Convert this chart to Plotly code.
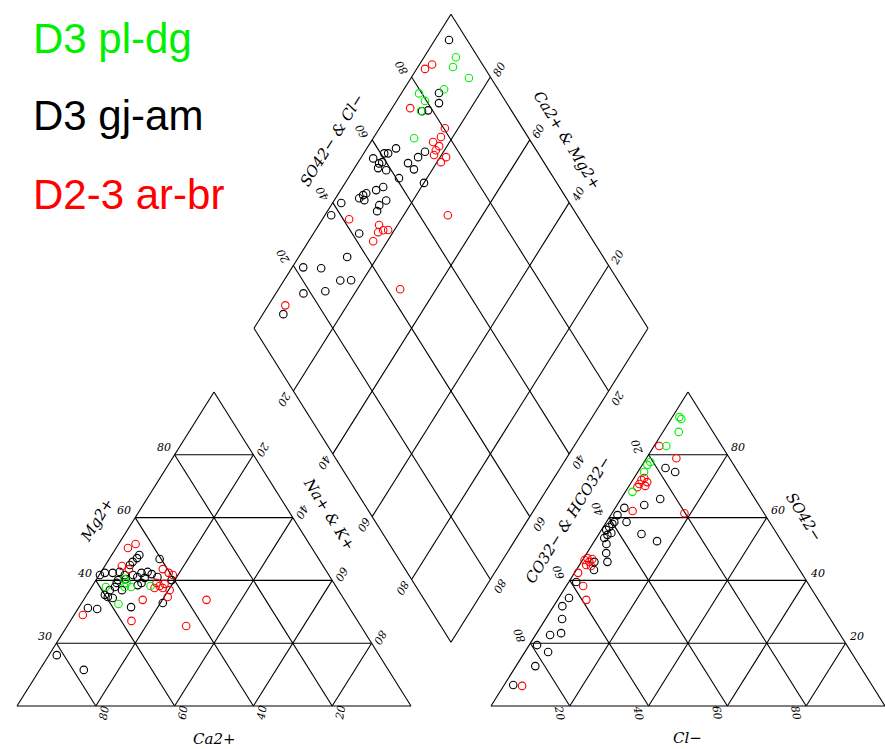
import plotly.graph_objects as go

# ---------------- data (percentages) ----------------
# Cation triangle: Ca2+ %, Mg2+ %  (Na+ + K+ = 100 - Ca - Mg)
cat_green_ca = [58.5, 52.5, 52.6, 52.1, 53.7, 47.0, 58.0]
cat_green_mg = [37.9, 40.4, 39.2, 37.9, 37.9, 38.2, 32.5]

cat_black_ca = [44.9, 46.0, 47.7, 48.9, 40.4, 56.5, 54.5, 52.6, 51.8, 49.7, 47.2, 45.5,
                48.9, 54.3, 55.1, 56.2, 58.0, 50.1, 48.8, 60.0, 59.6, 58.5, 66.4, 64.2,
                55.3, 40.7, 43.8, 46.6, 81.8, 77.3, 44.8, 52.2, 54.9, 58.1, 47.2]
cat_black_mg = [48.1, 47.1, 45.9, 44.9, 46.8, 42.4, 42.4, 42.7, 41.7, 41.7, 42.4, 42.7,
                41.1, 40.1, 39.2, 37.9, 36.9, 38.5, 39.2, 35.4, 34.7, 34.4, 31.2, 30.9,
                31.5, 40.1, 41.1, 32.8, 16.2, 11.5, 42.0, 40.4, 36.9, 41.7, 40.8]

cat_red_ca = [46.7, 44.1, 51.1, 49.8, 41.2, 40.3, 39.6, 45.0, 44.7, 43.1, 46.3, 44.2,
              42.8, 51.2, 44.4, 35.0, 68.8, 57.4, 44.3]
cat_red_mg = [50.3, 51.6, 44.6, 43.6, 43.6, 42.4, 41.7, 39.2, 38.2, 38.9, 37.6, 37.6,
              36.9, 33.8, 34.7, 33.8, 29.0, 27.1, 25.5]

# Anion triangle: Cl- %, SO42- %  (CO32- + HCO3- = 100 - Cl - SO4)
an_green_cl = [1.8, 2.6, 4.0, 3.1, 1.6, 1.3, 1.6, 1.8]
an_green_so4 = [92.0, 91.4, 87.3, 82.8, 77.7, 76.8, 74.5, 68.2]

an_black_cl = [6.4, 9.5, 6.9, 10.0, 2.3, 5.1, 10.8, 15.9, 1.2, 1.5, 1.8, 2.3, 3.0, 2.0,
               2.0, 1.7, 3.5, 4.9, 6.6, 3.3, 4.5, 1.9, 2.6, 2.2, 4.2, 3.7, 6.2, 2.0,
               5.9, 4.9, 2.3]
an_black_so4 = [75.8, 74.5, 64.0, 65.9, 63.1, 58.6, 54.8, 52.5, 56.1, 57.0, 58.0, 54.5,
                55.1, 58.6, 53.5, 60.8, 51.6, 48.7, 45.9, 45.9, 43.3, 39.5, 34.4, 31.8,
                27.7, 22.6, 23.2, 19.4, 17.2, 12.7, 6.7]

an_red_cl = [1.3, 7.6, 2.2, 2.6, 2.3, 4.1, 4.0, 2.3, 4.9, 18.4, 0.5, 0.9, 2.0, 2.3,
             1.7, 3.1, 0.9, 4.3, 7.3, 4.7]
an_red_so4 = [82.8, 78.9, 72.0, 72.6, 70.7, 70.1, 71.3, 69.7, 62.1, 61.4, 46.5, 47.1,
              45.9, 46.8, 44.9, 44.6, 42.4, 38.2, 33.8, 6.4]

# Diamond: Na+ + K+ %, SO42- + Cl- %
dia_green_nak = [8.1, 8.9, 14.7, 10.2, 4.5, 7.2, 7.8, 10.4]
dia_green_scl = [94.4, 92.1, 94.4, 86.3, 79.3, 79.6, 77.0, 70.9]

dia_black_nak = [3.6, 9.5, 11.1, 9.5, 8.1, 7.4, 6.2, 3.2, 5.2, 5.5, 6.0, 8.4, 6.1, 12.8,
                 15.3, 14.4, 15.3, 12.9, 20.0, 9.0, 10.3, 6.5, 7.0, 6.0, 7.6, 2.2, 1.6,
                 12.2, 13.2, 12.6, 11.6, 12.3, 2.8, 7.5, 14.3, 17.0, 7.0, 12.2, 5.2]
dia_black_scl = [95.4, 84.4, 82.8, 78.9, 77.2, 64.7, 61.9, 57.3, 60.9, 58.0, 57.0, 58.7,
                 59.0, 65.4, 65.9, 68.9, 71.5, 60.7, 66.3, 53.0, 55.3, 48.9, 50.0, 47.4,
                 48.4, 42.1, 37.6, 51.4, 53.9, 49.9, 41.8, 35.0, 22.2, 26.6, 29.5, 32.3,
                 18.1, 24.0, 9.7]

dia_red_nak = [2.1, 3.2, 4.6, 16.6, 17.0, 15.8, 18.0, 18.1, 21.5, 21.0, 17.8, 6.8, 15.3,
               17.2, 16.2, 18.4, 16.4, 31.2, 30.9, 4.3]
dia_red_scl = [84.7, 87.2, 74.7, 80.3, 77.9, 75.1, 76.0, 73.3, 76.0, 73.9, 74.5, 41.5,
               48.2, 48.4, 46.8, 49.7, 44.1, 67.2, 43.3, 11.6]

groups = ["D3 pl-dg", "D3 gj-am", "D2-3 ar-br"]
group_colors = ["#00ee00", "#000000", "#ff0000"]

grid_ticks = [20, 40, 60, 80]
cat_bottom_labels = ["80", "60", "40", "20"]   # Ca2+
cat_left_labels = ["30", "40", "60", "80"]     # Mg2+ (as printed)
cat_right_labels = ["80", "60", "40", "20"]    # Na+ & K+ (bottom -> top)
an_bottom_labels = ["20", "40", "60", "80"]    # Cl-
an_right_labels = ["20", "40", "60", "80"]     # SO42- (bottom -> top)
an_left_labels = ["80", "60", "40", "20"]      # CO32- & HCO3 (bottom -> top)

# ---------------- geometry ----------------
G = 0.203  # gap between triangles (in side units)
BX, BY = 1 + G / 2, G  # diamond bottom vertex (y measured in triangle heights)


def cat_xy(ca, mg):
    return [1 - c / 100 - m / 200 for c, m in zip(ca, mg)], [m / 100 for m in mg]


def an_xy(cl, so4):
    return [1 + G + c / 100 + s / 200 for c, s in zip(cl, so4)], [s / 100 for s in so4]


def dia_xy(nak, scl):
    xs, ys = [], []
    for n, s in zip(nak, scl):
        a = 1 - n / 100
        b = s / 100
        xs.append(BX - 0.5 * a + 0.5 * b)
        ys.append(BY + a + b)
    return xs, ys


lx, ly = [], []


def seg(p, q):
    lx.extend([p[0], q[0], None])
    ly.extend([p[1], q[1], None])


for off in (0.0, 1 + G):
    seg((off, 0), (off + 1, 0))
    seg((off + 1, 0), (off + 0.5, 1))
    seg((off + 0.5, 1), (off, 0))
    for k in grid_ticks:
        t = k / 100
        seg((off + t / 2, t), (off + 1 - t / 2, t))
        seg((off + t, 0), (off + t + (1 - t) / 2, 1 - t))
        seg((off + 1 - t, 0), (off + (1 - t) / 2, 1 - t))

# diamond
for k in [0] + grid_ticks + [100]:
    t = k / 100
    p = (BX - 0.5 * t, BY + t)
    seg(p, (p[0] + 0.5, p[1] + 1))
    p = (BX + 0.5 * t, BY + t)
    seg(p, (p[0] - 0.5, p[1] + 1))

fig = go.Figure()
fig.add_trace(go.Scatter(x=lx, y=ly, mode="lines", line=dict(color="black", width=1.1),
                         hoverinfo="skip", showlegend=False))

series = [
    (cat_black_ca, cat_black_mg, an_black_cl, an_black_so4, dia_black_nak, dia_black_scl, 1),
    (cat_red_ca, cat_red_mg, an_red_cl, an_red_so4, dia_red_nak, dia_red_scl, 2),
    (cat_green_ca, cat_green_mg, an_green_cl, an_green_so4, dia_green_nak, dia_green_scl, 0),
]
for ca, mg, cl, so4, nak, scl, gi in series:
    xs, ys = [], []
    for f, u, v in ((cat_xy, ca, mg), (an_xy, cl, so4), (dia_xy, nak, scl)):
        a, b = f(u, v)
        xs += a
        ys += b
    fig.add_trace(go.Scatter(
        x=xs, y=ys, mode="markers", name=groups[gi], showlegend=False,
        marker=dict(symbol="circle-open", size=7.5, color=group_colors[gi],
                    line=dict(width=1.1, color=group_colors[gi]))))

num_font = dict(family="DejaVu Serif", size=11, color="black", style="italic")
ttl_font = dict(family="DejaVu Serif", size=15, color="black", style="italic")
ann = []


def lab(x, y, text, dx, dy, angle=0, font=num_font):
    ann.append(dict(x=x, y=y, xref="x", yref="y", text=text, showarrow=False,
                    xshift=dx, yshift=dy, textangle=angle, font=font,
                    xanchor="center", yanchor="middle"))


for i, k in enumerate(grid_ticks):
    t = k / 100
    # cation triangle
    lab(t, 0, cat_bottom_labels[i], 8, -7, -80)
    lab(t / 2, t, cat_left_labels[i], -11, 7, 0)
    lab(1 - t / 2, t, cat_right_labels[i], 9, 6, 120)
    # anion triangle
    lab(1 + G + t, 0, an_bottom_labels[i], -10, -7, 80)
    lab(1 + G + 1 - t / 2, t, an_right_labels[i], 11, 7, 0)
    lab(1 + G + t / 2, t, an_left_labels[i], -11, 8, -110)
    # diamond upper-left (SO4 & Cl)
    lab(BX - 0.5 + 0.5 * t, BY + 1 + t, str(k), -10, 9, -120)
    # diamond upper-right (Ca & Mg)
    lab(BX + 0.5 - 0.5 * t, BY + 1 + t, str(k), 9, 8, -60)
    # diamond lower-left (Na & K)
    lab(BX - 0.5 * t, BY + t, str(100 - k), -9, -8, 120)
    # diamond lower-right (CO3 & HCO3)
    lab(BX + 0.5 * t, BY + t, str(100 - k), 9, -7, 120)

W, H = 885, 749


def ttl(px, py, text, angle):
    ann.append(dict(x=px / W, y=1 - py / H, xref="paper", yref="paper", text=text,
                    showarrow=False, textangle=angle, font=ttl_font,
                    xanchor="center", yanchor="middle"))


ttl(97, 520, "Mg2+", -58)
ttl(214, 739, "Ca2+", 0)
ttl(329, 514, "Na+ &amp; K+", 58)
ttl(687, 738, "Cl−", 0)
ttl(804, 517, "SO42−", 58)
ttl(568, 520, "CO32− &amp; HCO32−", -58)
ttl(332, 140, "SO42− &amp; Cl−", -58)
ttl(567, 140, "Ca2+ &amp; Mg2+", 58)

# legend text
leg_y = [39, 116, 194]
for i, g in enumerate(groups):
    ann.append(dict(x=31 / W, y=1 - leg_y[i] / H, xref="paper", yref="paper", text=g,
                    showarrow=False, xanchor="left", yanchor="middle",
                    font=dict(family="Liberation Sans", size=42, color=group_colors[i])))

fig.update_layout(
    width=W, height=H, autosize=False,
    margin=dict(l=0, r=0, t=0, b=0),
    paper_bgcolor="white", plot_bgcolor="white",
    xaxis=dict(range=[-17 / 394, 868 / 394], visible=False, fixedrange=True),
    yaxis=dict(range=[(706 - 749) / 314, 706 / 314], visible=False, fixedrange=True),
    annotations=ann, showlegend=False,
)
fig.write_html("out.html")
